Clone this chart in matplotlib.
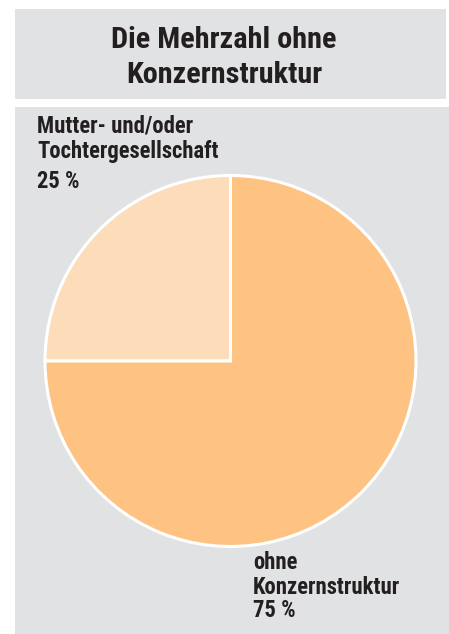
import matplotlib.pyplot as plt
from matplotlib.patches import Rectangle

shares = [25, 75]
labels = [["Mutter- und/oder", "Tochtergesellschaft", "25 %"],
          ["ohne", "Konzernstruktur", "75 %"]]
title_lines = ["Die Mehrzahl ohne", "Konzernstruktur"]

W, H = 449, 634
bg = "#e1e2e4"
ink = "#231f20"
slice_colors = ["#fddcba", "#fec383"]
font = ["Roboto Condensed", "DejaVu Sans"]

fig = plt.figure(figsize=(W / 100, H / 100), dpi=100)
fig.patch.set_facecolor("white")

# pixel-based canvas for the boxes and the text
ax = fig.add_axes([0, 0, 1, 1])
ax.set_xlim(0, W)
ax.set_ylim(H, 0)
ax.axis("off")
ax.add_patch(Rectangle((15, 9), 431, 90, color=bg, lw=0))
ax.add_patch(Rectangle((15, 107), 434, H - 107, color=bg, lw=0))

for y, line in zip([48, 83], title_lines):
    ax.text(224, y, line, ha="center", va="baseline", fontsize=21.8,
            fontweight="bold", color=ink, family=font)

for y, line in zip([133, 158, 188], labels[0]):
    ax.text(37, y, line, ha="left", va="baseline", fontsize=16.3,
            fontweight="bold", color=ink, family=font)
for y, line in zip([569, 594, 617], labels[1]):
    ax.text(253, y, line, ha="left", va="baseline", fontsize=16.3,
            fontweight="bold", color=ink, family=font)

# pie in its own square axes
cx, cy, r = 230.5, 361, 185.5
pax = fig.add_axes([(cx - r) / W, (H - cy - r) / H, 2 * r / W, 2 * r / H])
pax.pie(shares, colors=slice_colors, startangle=90, counterclock=True,
        radius=1, wedgeprops=dict(edgecolor="white", linewidth=2.2))
pax.set_xlim(-1, 1)
pax.set_ylim(-1, 1)
pax.axis("off")

fig.savefig("out.png", dpi=100, facecolor="white")
